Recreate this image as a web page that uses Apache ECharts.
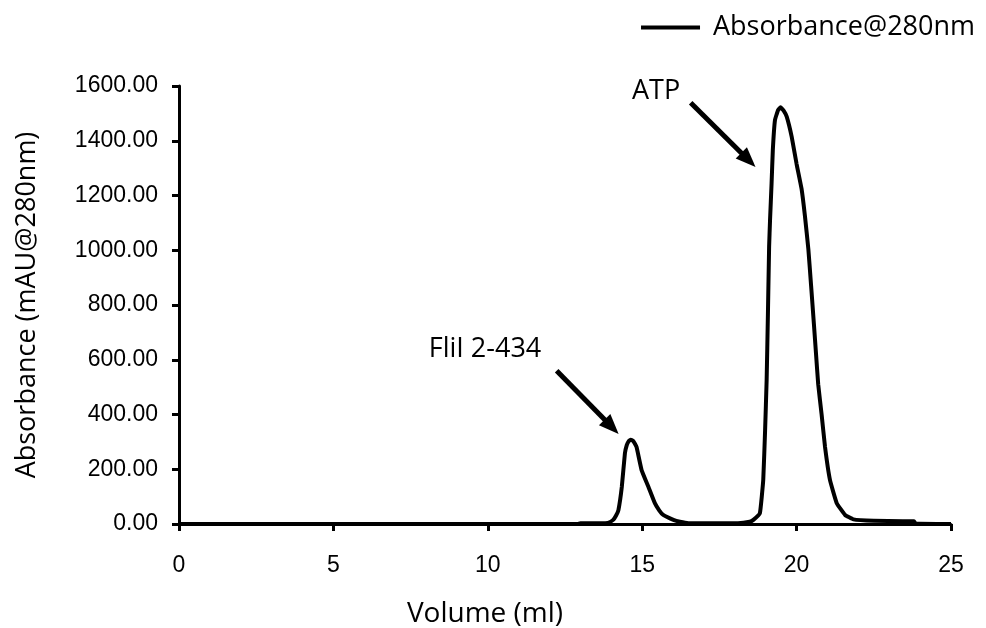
<!DOCTYPE html>
<html>
<head>
<meta charset="utf-8">
<script src="https://cdn.jsdelivr.net/npm/echarts@6/dist/echarts.min.js"></script>
<style>
  html, body { margin: 0; padding: 0; background: #fff; }
  #chart { width: 986px; height: 628px; }
</style>
</head>
<body>
<div id="chart"></div>
<script>
// elution volume (ml) and absorbance (mAU @ 280nm)
var volume = [0, 12.9, 13.0, 13.8, 13.9, 14.06, 14.15, 14.23, 14.34, 14.44, 14.5, 14.56, 14.63, 14.7, 14.76, 14.82, 14.98,
  15.2, 15.41, 15.55, 15.68, 16.01, 16.22, 16.5, 17.3, 18.1, 18.48, 18.6, 18.81, 18.92, 18.98, 19.03,
  19.07, 19.11, 19.14, 19.19, 19.23, 19.3, 19.4, 19.48, 19.58, 19.68, 19.84, 20.0, 20.16, 20.27, 20.38,
  20.47, 20.56, 20.63, 20.7, 20.81, 20.92, 21.08, 21.3, 21.57, 21.84, 22.5, 23.8, 23.85, 25];
var absorbance = [0, 0, 3, 3, 4, 15, 30, 51, 136, 258, 288, 302, 308, 304, 294, 280, 197,
  136, 76, 50, 33, 15, 8, 3, 3, 3, 8, 15, 39, 161, 343, 526,
  760, 1013, 1110, 1245, 1366, 1476, 1512, 1522, 1510, 1488, 1415, 1315, 1225, 1125, 1005,
  870, 731, 620, 510, 400, 282, 161, 76, 33, 17, 12, 10, 2, 0];
var xTicks = [0, 5, 10, 15, 20, 25];
var yTicks = [0, 200, 400, 600, 800, 1000, 1200, 1400, 1600];

// peak labels: text, arrow start, arrow end (data coords)
var peakNames = ['ATP', 'FliI 2-434'];
var labelAt = [[15.45, 1582], [9.91, 639]];
var arrowFrom = [[16.57, 1539], [12.23, 560]];
var arrowTo = [[18.44, 1330], [14.01, 355]];

var series_data = volume.map(function (v, i) { return [v, absorbance[i]]; });

var arrows = arrowFrom.map(function (p, i) {
  return [{ coord: p }, { coord: arrowTo[i] }];
});

var chart = echarts.init(document.getElementById('chart'));
var option = {
  animation: false,
  backgroundColor: '#fff',
  grid: { left: 179, right: 35, top: 86, bottom: 104, outerBoundsMode: 'none' },
  legend: {
    right: 6, top: 9,
    icon: 'rect', itemWidth: 59, itemHeight: 4, itemGap: 10,
    textStyle: { fontFamily: 'Open Sans', fontSize: 27, color: '#000', padding: [0, 0, 0, 8] },
    data: ['Absorbance@280nm']
  },
  xAxis: {
    type: 'value', min: 0, max: 25, interval: 5,
    name: 'Volume (ml)', nameLocation: 'middle', nameGap: 76,
    nameTextStyle: { fontFamily: 'Open Sans', fontSize: 28, color: '#000', padding: [0, 160, 0, 0] },
    axisLine: { onZero: false, lineStyle: { color: '#000', width: 3 } },
    axisTick: { show: true, length: 7, lineStyle: { color: '#000', width: 3 } },
    axisLabel: {
      margin: 30, color: '#000', fontFamily: 'Liberation Sans', fontSize: 23,
      formatter: function (v) { return xTicks.indexOf(v) >= 0 ? String(v) : ''; }
    },
    splitLine: { show: false }
  },
  yAxis: {
    type: 'value', min: 0, max: 1600, interval: 200,
    name: 'Absorbance (mAU@280nm)', nameLocation: 'middle', nameGap: 138,
    nameTextStyle: { fontFamily: 'Open Sans', fontSize: 27, color: '#000' },
    axisLine: { show: true, lineStyle: { color: '#000', width: 3 } },
    axisTick: { show: true, length: 7, lineStyle: { color: '#000', width: 3 } },
    axisLabel: {
      margin: 21, color: '#000', fontFamily: 'Liberation Sans', fontSize: 23,
      formatter: function (v) { return yTicks.indexOf(v) >= 0 ? v.toFixed(2) : ''; }
    },
    splitLine: { show: false }
  },
  series: [{
    name: 'Absorbance@280nm',
    type: 'line',
    data: series_data,
    showSymbol: false,
    smooth: 0.1,
    color: '#000',
    lineStyle: { color: '#000', width: 4 },
    markLine: {
      silent: true,
      symbol: ['none', 'triangle'],
      symbolSize: [16, 20],
      label: { show: false },
      lineStyle: { color: '#000', width: 5, type: 'solid' },
      data: arrows
    }
  }]
};
chart.setOption(option);

// peak captions placed from data coordinates
var texts = peakNames.map(function (name, i) {
  var p = chart.convertToPixel({ gridIndex: 0 }, labelAt[i]);
  return {
    type: 'text', x: p[0], y: p[1],
    style: {
      text: name, fill: '#000', fontFamily: 'Open Sans', fontSize: 27,
      textAlign: 'center', textVerticalAlign: 'middle'
    }
  };
});
chart.setOption({ graphic: texts });
</script>
</body>
</html>
